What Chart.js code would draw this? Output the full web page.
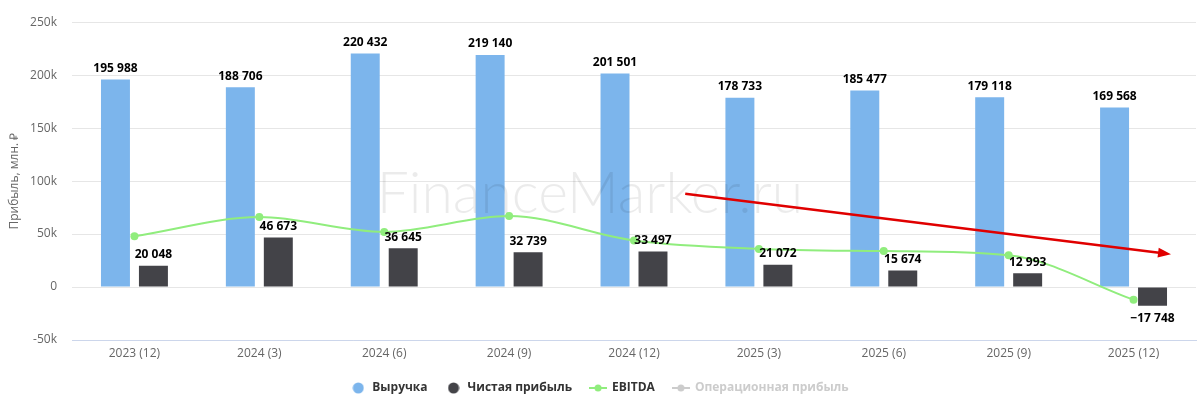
<!DOCTYPE html>
<html>
<head>
<meta charset="utf-8">
<script src="https://cdn.jsdelivr.net/npm/chart.js@4.4.0/dist/chart.umd.min.js"></script>
<style>
    html, body { margin: 0; padding: 0; background: #fff; }
    #wrap { width: 1200px; height: 405px; position: relative; }
</style>
</head>
<body>
<div id="wrap"><canvas id="profit-chart"></canvas></div>
<script>
const periods = ['2023 (12)', '2024 (3)', '2024 (6)', '2024 (9)', '2024 (12)', '2025 (3)', '2025 (6)', '2025 (9)', '2025 (12)'];
const revenue = [195988, 188706, 220432, 219140, 201501, 178733, 185477, 179118, 169568];
const netProfit = [20048, 46673, 36645, 32739, 33497, 21072, 15674, 12993, -17748];
const ebitda = [48000, 66000, 52000, 67000, 44000, 36000, 34000, 30000, -12000];
const opProfit = [];
const yTicks = [-50000, 0, 50000, 100000, 150000, 200000, 250000];
// red trend arrow, in category index / value units
const trendX = [4.41, 8.30];
const trendY = [88000, 31000];

const BLUE = '#7cb5ec';
const DARK = '#434348';
const GREEN = '#90ed7d';
const GREY = '#cccccc';

Chart.defaults.font.family = "'Open Sans', sans-serif";

//number like 195 988
function fmt(v) {
    const s = Math.abs(v).toString().replace(/\B(?=(\d{3})+(?!\d))/g, ' ');
    return (v < 0 ? '−' : '') + s;
}

//legend icons
function circleIcon(color) {
    const c = document.createElement('canvas');
    c.width = 12; c.height = 12;
    const g = c.getContext('2d');
    g.fillStyle = color;
    g.beginPath();
    g.arc(6, 6, 5.5, 0, Math.PI * 2);
    g.fill();
    return c;
}
function lineIcon(color) {
    const c = document.createElement('canvas');
    c.width = 18; c.height = 10;
    const g = c.getContext('2d');
    g.strokeStyle = color;
    g.lineWidth = 2;
    g.beginPath();
    g.moveTo(0, 5); g.lineTo(18, 5);
    g.stroke();
    g.fillStyle = color;
    g.beginPath();
    g.arc(9, 5, 3.5, 0, Math.PI * 2);
    g.fill();
    return c;
}

const extras = {
    id: 'extras',
    afterDatasetsDraw(chart) {
        const ctx = chart.ctx;
        const x = chart.scales.x, y = chart.scales.y;

        //watermark
        ctx.save();
        ctx.font = '300 57px Lato';
        ctx.fillStyle = 'rgba(0,0,0,0.08)';
        ctx.textAlign = 'center';
        ctx.textBaseline = 'alphabetic';
        ctx.fillText('FinanceMarker.ru', chart.width / 2 - 10, 213);
        ctx.restore();

        //values over bars
        ctx.save();
        ctx.font = 'bold 12px "Open Sans"';
        ctx.fillStyle = '#000';
        ctx.textAlign = 'center';
        ctx.textBaseline = 'middle';
        [0, 1].forEach(i => {
            const ds = chart.data.datasets[i];
            chart.getDatasetMeta(i).data.forEach((bar, j) => {
                const v = ds.data[j];
                const ty = v >= 0 ? bar.y - 11 : bar.y + 13;
                ctx.fillText(fmt(v), bar.x, ty);
            });
        });
        ctx.restore();

        //trend arrow
        const x0 = x.getPixelForValue(trendX[0]), y0 = y.getPixelForValue(trendY[0]);
        const x1 = x.getPixelForValue(trendX[1]), y1 = y.getPixelForValue(trendY[1]);
        const a = Math.atan2(y1 - y0, x1 - x0);
        ctx.save();
        ctx.strokeStyle = '#e00000';
        ctx.fillStyle = '#e00000';
        ctx.lineWidth = 2.5;
        ctx.beginPath();
        ctx.moveTo(x0, y0);
        ctx.lineTo(x1 - 10 * Math.cos(a), y1 - 10 * Math.sin(a));
        ctx.stroke();
        ctx.beginPath();
        ctx.moveTo(x1, y1);
        ctx.lineTo(x1 - 13 * Math.cos(a) + 5 * Math.sin(a), y1 - 13 * Math.sin(a) - 5 * Math.cos(a));
        ctx.lineTo(x1 - 13 * Math.cos(a) - 5 * Math.sin(a), y1 - 13 * Math.sin(a) + 5 * Math.cos(a));
        ctx.closePath();
        ctx.fill();
        ctx.restore();
    }
};

const icons = [circleIcon(BLUE), circleIcon(DARK), lineIcon(GREEN), lineIcon(GREY)];

new Chart(document.querySelector('#profit-chart').getContext('2d'), {
    type: 'bar',
    data: {
        labels: periods,
        datasets: [
            { label: 'Выручка', data: revenue, backgroundColor: BLUE, order: 1,
              categoryPercentage: 0.608, barPercentage: 0.763 },
            { label: 'Чистая прибыль', data: netProfit, backgroundColor: DARK, order: 1,
              categoryPercentage: 0.608, barPercentage: 0.763 },
            { type: 'line', label: 'EBITDA', data: ebitda, borderColor: GREEN, backgroundColor: GREEN,
              borderWidth: 2, pointRadius: 4, pointBorderWidth: 0, cubicInterpolationMode: 'monotone', order: 0 },
            { type: 'line', label: 'Операционная прибыль', data: opProfit, borderColor: GREY,
              backgroundColor: GREY, hidden: true, order: 0 }
        ]
    },
    plugins: [extras],
    options: {
        responsive: true,
        maintainAspectRatio: false,
        animation: false,
        layout: { padding: { top: 22, right: 4, bottom: 1, left: 3 } },
        plugins: {
            tooltip: { enabled: false },
            legend: {
                position: 'bottom',
                labels: {
                    usePointStyle: true,
                    pointStyleWidth: 16,
                    padding: 18,
                    font: { size: 12, weight: 'bold' },
                    color: '#333333',
                    generateLabels: chart => chart.data.datasets.map((ds, i) => ({
                        text: ds.label,
                        pointStyle: icons[i],
                        fillStyle: ds.backgroundColor,
                        strokeStyle: ds.backgroundColor,
                        lineWidth: 0,
                        hidden: false,
                        fontColor: ds.hidden ? GREY : '#333333',
                        datasetIndex: i
                    }))
                }
            }
        },
        scales: {
            x: {
                grid: { display: false, drawTicks: false },
                border: { display: true, color: '#ccd6eb', width: 1 },
                ticks: { color: '#666666', font: { size: 12 }, padding: 6 },
                afterFit: s => { s.height = 24; }
            },
            y: {
                min: -50000,
                max: 250000,
                afterBuildTicks: s => { s.ticks = yTicks.map(v => ({ value: v })); },
                grid: { color: '#e6e6e6', drawTicks: false },
                border: { display: false },
                ticks: {
                    color: '#666666',
                    font: { size: 12 },
                    padding: 15,
                    callback: v => v === 0 ? '0' : (v / 1000) + 'k'
                },
                title: { display: true, text: 'Прибыль, млн. ₽', color: '#666666', font: { size: 12 } },
                afterFit: s => { s.width = 69; }
            }
        }
    }
});
</script>
</body>
</html>
